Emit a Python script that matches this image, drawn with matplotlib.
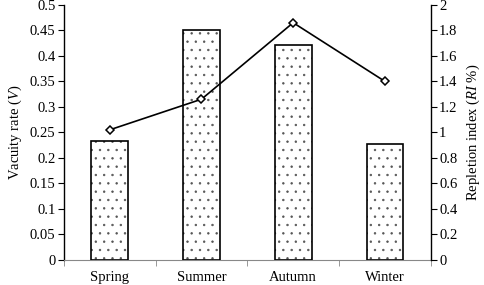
import numpy as np
import matplotlib
matplotlib.use('Agg')
import matplotlib.pyplot as plt
from matplotlib.ticker import FixedLocator

plt.rcParams['font.family'] = ['Liberation Serif', 'DejaVu Serif']
plt.rcParams['mathtext.fontset'] = 'custom'
plt.rcParams['mathtext.rm'] = 'Liberation Serif'
plt.rcParams['mathtext.it'] = 'Liberation Serif:italic'
plt.rcParams['hatch.linewidth'] = 0.5

seasons = ['Spring', 'Summer', 'Autumn', 'Winter']
vacuity = [0.233, 0.451, 0.421, 0.228]
repletion = [1.02, 1.26, 1.86, 1.40]
left_ticks = [0, 0.05, 0.1, 0.15, 0.2, 0.25, 0.3, 0.35, 0.4, 0.45, 0.5]
left_labels = ['0', '0.05', '0.1', '0.15', '0.2', '0.25', '0.3', '0.35', '0.4', '0.45', '0.5']
right_ticks = [0, 0.2, 0.4, 0.6, 0.8, 1, 1.2, 1.4, 1.6, 1.8, 2]
right_labels = ['0', '0.2', '0.4', '0.6', '0.8', '1', '1.2', '1.4', '1.6', '1.8', '2']

fig = plt.figure(figsize=(4.84, 2.85), dpi=100)
ax = fig.add_axes([0.132, 0.088, 0.758, 0.895])
x = np.arange(len(seasons))

# dotted fill (grey dots) then black outline on top
ax.bar(x, vacuity, width=0.4, color='white', edgecolor='#555555', linewidth=0,
       hatch='..', zorder=2)
ax.bar(x, vacuity, width=0.4, fill=False, edgecolor='black', linewidth=1.2, zorder=3)
ax.set_xlim(-0.5, len(seasons) - 0.5)
ax.set_ylim(0, 0.5)
ax.set_yticks(left_ticks)
ax.set_yticklabels(left_labels)
ax.set_xticks(x)
ax.set_xticklabels(seasons)
ax.xaxis.set_minor_locator(FixedLocator(np.arange(-0.5, len(seasons), 1.0)))
ax.tick_params(axis='x', which='major', length=0, pad=8, labelsize=10.5)
ax.tick_params(axis='x', which='minor', length=4, color='#888888', direction='out')
ax.tick_params(axis='y', length=4, width=0.8, labelsize=10.5, pad=2)
ax.set_ylabel('Vacuity rate ($\\it{V}$)', fontsize=10.5, labelpad=4)

ax.spines['top'].set_visible(False)
ax.spines['right'].set_visible(False)
ax.spines['bottom'].set_color('#888888')
ax.spines['left'].set_linewidth(1.0)

ax2 = ax.twinx()
ax2.plot(x, repletion, color='black', linewidth=1.2, marker='D', markersize=4,
         markerfacecolor='white', markeredgecolor='black', markeredgewidth=1.1, zorder=3)
ax2.set_ylim(0, 2)
ax2.set_yticks(right_ticks)
ax2.set_yticklabels(right_labels)
ax2.tick_params(axis='y', length=4, width=0.8, labelsize=10.5, pad=2)
ax2.set_ylabel('Repletion index ($\\it{RI}$ %)', fontsize=10.5, labelpad=5)
ax2.spines['top'].set_visible(False)
ax2.spines['left'].set_visible(False)
ax2.spines['bottom'].set_visible(False)
ax2.spines['right'].set_linewidth(1.0)

fig.savefig('out.png', dpi=100)
